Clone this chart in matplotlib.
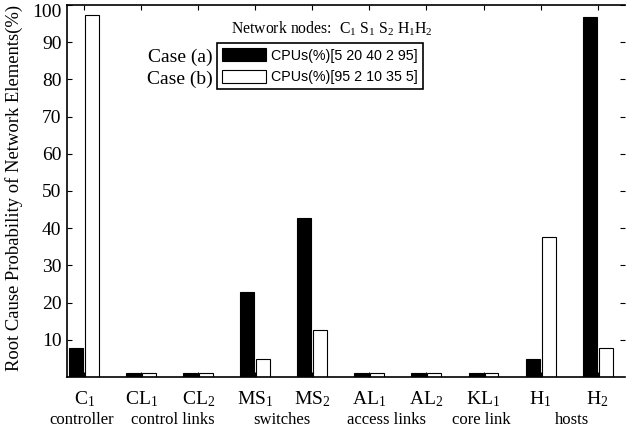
"""Root cause probability of network elements for two CPU load cases."""

import matplotlib

matplotlib.use("Agg")
import matplotlib.pyplot as plt
import matplotlib.transforms as mtransforms
import numpy as np

elements = [r"C$_1$", r"CL$_1$", r"CL$_2$", r"MS$_1$", r"MS$_2$",
            r"AL$_1$", r"AL$_2$", r"KL$_1$", r"H$_1$", r"H$_2$"]
case_a = [7.8, 1.1, 1.1, 22.8, 42.7, 1.1, 1.1, 1.1, 4.9, 96.9]
case_b = [97.3, 1.1, 1.1, 4.9, 12.7, 1.1, 1.1, 1.1, 37.6, 7.9]
legend_labels = ["CPUs(%)[5 20 40 2 95]", "CPUs(%)[95 2 10 35 5]"]
case_names = ["Case (a)", "Case (b)"]
groups = ["controller", "control links", "switches", "access links",
          "core link", "hosts"]
group_pos = [0.96, 2.55, 4.46, 6.30, 7.96, 9.55]
yticks = [10, 20, 30, 40, 50, 60, 70, 80, 90, 100]

plt.rcParams["font.family"] = ["Liberation Serif", "DejaVu Serif"]
plt.rcParams["mathtext.fontset"] = "custom"
plt.rcParams["mathtext.rm"] = "Liberation Serif"
plt.rcParams["mathtext.it"] = "Liberation Serif:italic"

W, H = 626, 432
fig = plt.figure(figsize=(W / 100, H / 100), dpi=100)
ax = fig.add_axes([67 / W, 55 / H, (625 - 67) / W, (377 - 5) / H])

x = np.arange(1, len(elements) + 1)
bw = 0.245
bars_a = ax.bar(x - 0.14, case_a, bw, color="black", edgecolor="black", linewidth=0.8)
bars_b = ax.bar(x + 0.14, case_b, bw, color="white", edgecolor="black", linewidth=0.8)

ax.set_xlim(0.70, 10.48)
ax.set_ylim(0, 100)
ax.set_xticks(x)
ax.set_xticklabels(elements, fontsize=14)
ax.set_yticks(yticks)
ax.set_yticklabels([str(v) for v in yticks], fontsize=14)
ax.tick_params(direction="in", length=3.5, width=0.8, top=True, right=True, pad=4)
ax.tick_params(axis="x", pad=9)
for side in ("left", "bottom", "top"):
    ax.spines[side].set_linewidth(1.2)
ax.spines["right"].set_visible(False)

# the top label sits a little lower in the original
lbl = ax.get_yticklabels()[-1]
lbl.set_transform(lbl.get_transform() + mtransforms.ScaledTranslation(0, -6 / 100, fig.dpi_scale_trans))

ax.set_ylabel("Root Cause Probability of Network Elements(%)", fontsize=13.4)
ax.yaxis.set_label_coords(-44 / (625 - 67), 0.507)

for name, pos in zip(groups, group_pos):
    ax.annotate(name, xy=(pos, 0), xycoords=("data", "axes fraction"),
                xytext=(0, -43), textcoords="offset pixels",
                ha="center", va="center", fontsize=12)

leg = ax.legend([bars_a, bars_b], legend_labels, loc="upper left",
                bbox_to_anchor=(217 / W, 1 - 43 / H), bbox_transform=fig.transFigure,
                borderaxespad=0, fancybox=False, edgecolor="black", framealpha=1,
                handlelength=3.1, handleheight=1.05, handletextpad=0.35,
                labelspacing=0.5, borderpad=0.35,
                prop={"family": "Liberation Sans", "size": 10.3})
leg.get_frame().set_linewidth(1.2)

fig.text(213 / W, 1 - 57 / H, case_names[0], ha="right", va="center", fontsize=14)
fig.text(213 / W, 1 - 79 / H, case_names[1], ha="right", va="center", fontsize=14)
fig.text(231 / W, 1 - 29 / H, r"Network nodes:  C$_1$ S$_1$ S$_2$ H$_1$H$_2$",
         ha="left", va="center", fontsize=11.3)

fig.savefig("out.png", dpi=100)
